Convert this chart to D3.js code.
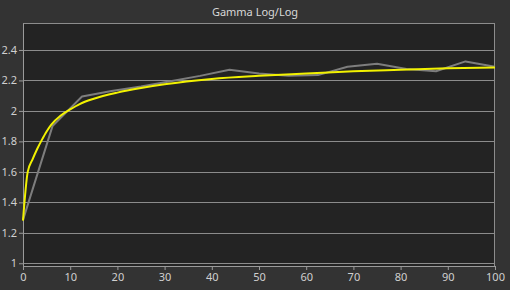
<!DOCTYPE html>
<html>
<head>
<meta charset="utf-8">
<script src="https://cdn.jsdelivr.net/npm/d3@7"></script>
<style>
  html, body { margin: 0; padding: 0; background: #333333; }
  svg { display: block; }
</style>
</head>
<body>
<div id="chart"></div>
<script>
// measured gamma points (stimulus %)
const measuredX = [0, 6.25, 12.5, 18.75, 25, 31.25, 37.5, 43.75, 50, 56.25, 62.5, 68.75, 75, 81.25, 87.5, 93.75, 100];
const measuredGamma = [1.285, 1.90, 2.095, 2.13, 2.16, 2.195, 2.23, 2.27, 2.245, 2.23, 2.235, 2.29, 2.31, 2.275, 2.26, 2.325, 2.29];

// target / fitted curve
const targetX = [0, 1, 2, 3, 4, 5, 6, 8, 10, 12, 15, 20, 25, 30, 40, 50, 60, 70, 80, 90, 100];
const targetGamma = [1.28, 1.60, 1.68, 1.75, 1.81, 1.865, 1.91, 1.97, 2.01, 2.045, 2.08, 2.12, 2.15, 2.175, 2.21, 2.23, 2.245, 2.26, 2.27, 2.28, 2.285];

const xTicks = [0, 10, 20, 30, 40, 50, 60, 70, 80, 90, 100];
const yTicks = [1, 1.2, 1.4, 1.6, 1.8, 2, 2.2, 2.4];

const W = 510, H = 290;
const margin = { top: 23, right: 15, bottom: 24, left: 23 };
const w = W - margin.left - margin.right;
const h = H - margin.top - margin.bottom;

const svg = d3.select("#chart").append("svg")
    .attr("width", W)
    .attr("height", H);

svg.append("rect").attr("width", W).attr("height", H).attr("fill", "#333333");

svg.append("text")
    .attr("x", 255)
    .attr("y", 16)
    .attr("text-anchor", "middle")
    .attr("fill", "#d8d8d8")
    .attr("font-family", "Noto Sans, sans-serif")
    .attr("font-size", "11px")
    .text("Gamma Log/Log");

const g = svg.append("g")
    .attr("transform", `translate(${margin.left},${margin.top})`);

g.append("rect").attr("width", w).attr("height", h).attr("fill", "#232323");

const x = d3.scaleLinear().domain([0, 100]).range([0, w]);
const y = d3.scaleLinear().domain([0.982, 2.577]).range([h, 0]);

// grid
g.selectAll(".grid")
    .data(yTicks)
    .enter().append("line")
    .attr("class", "grid")
    .attr("x1", 0).attr("x2", w)
    .attr("y1", d => Math.round(y(d)) + 0.5)
    .attr("y2", d => Math.round(y(d)) + 0.5)
    .attr("stroke", "#8c8c8c")
    .attr("stroke-width", 1);

// border top/right
g.append("line").attr("x1", 0).attr("x2", w).attr("y1", 0.5).attr("y2", 0.5)
    .attr("stroke", "#8c8c8c");
g.append("line").attr("x1", w - 0.5).attr("x2", w - 0.5).attr("y1", 0).attr("y2", h)
    .attr("stroke", "#8c8c8c");

const styleAxis = sel => {
    sel.select(".domain").attr("stroke", "#9a9a9a");
    sel.selectAll(".tick line").attr("stroke", "#9a9a9a");
    sel.selectAll(".tick text")
        .attr("fill", "#d0d0d0")
        .attr("font-family", "Noto Sans, sans-serif")
        .attr("font-size", "11px");
};

g.append("g")
    .attr("transform", `translate(0,${h})`)
    .call(d3.axisBottom(x).tickValues(xTicks).tickSize(4).tickSizeOuter(0).tickPadding(3))
    .call(styleAxis);

g.append("g")
    .call(d3.axisLeft(y).tickValues(yTicks).tickFormat(d3.format("~g")).tickSize(4).tickSizeOuter(0).tickPadding(2))
    .call(styleAxis);

const measured = measuredX.map((d, i) => ({ x: d, v: measuredGamma[i] }));
const target = targetX.map((d, i) => ({ x: d, v: targetGamma[i] }));

g.append("path")
    .datum(measured)
    .attr("fill", "none")
    .attr("stroke", "#7d7d7d")
    .attr("stroke-width", 2)
    .attr("stroke-linejoin", "round")
    .attr("d", d3.line().x(d => x(d.x)).y(d => y(d.v)));

g.append("path")
    .datum(target)
    .attr("fill", "none")
    .attr("stroke", "#f2f200")
    .attr("stroke-width", 2)
    .attr("stroke-linejoin", "round")
    .attr("d", d3.line().curve(d3.curveMonotoneX).x(d => x(d.x)).y(d => y(d.v)));
</script>
</body>
</html>
